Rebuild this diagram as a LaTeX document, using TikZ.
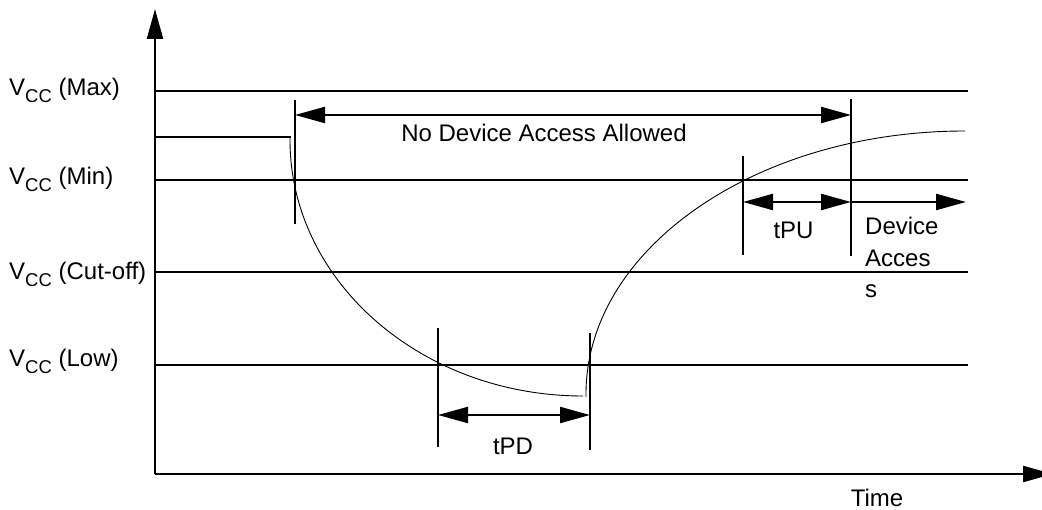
\documentclass[tikz,border=0pt]{standalone}
\usepackage{fontspec}
\setmainfont{Liberation Sans}
\usepackage{tikz}
\usetikzlibrary{arrows.meta}
\tikzset{
    rail/.style={line width=2.2pt},
    gate/.style={line width=2.2pt},
    trace/.style={line width=0.9pt},
    oneway/.style={line width=2.2pt, -{Triangle[length=30pt,width=16pt]}},
    twoway/.style={line width=2.2pt, {Triangle[length=30pt,width=16pt]}-{Triangle[length=30pt,width=16pt]}},
    lbl/.style={inner sep=0pt, font=\fontsize{24}{31.5}\selectfont}
}
\newcommand{\vcc}[1]{V\raisebox{-7pt}{\fontsize{18.5}{18.5}\selectfont CC} (#1)}
\newcommand{\vlevel}[4] {
	\coordinate (#1-l) at (155,#3);
	\coordinate (#1-r) at (968,#3);
	\draw[rail] (#1-l) -- (#1-r);
	\node[lbl, anchor=base west] (#1-txt) at (9,#4) {\vcc{#2}};
}
\newcommand{\gateline}[4] {
	\coordinate (#1-t) at (#2,#3);
	\coordinate (#1-b) at (#2,#4);
	\draw[gate] (#1-t) -- (#1-b);
}

\begin{document}
\begin{tikzpicture}[x=1pt,y=-1pt]
		\useasboundingbox (0,0) rectangle (1042,510);

		% axes
		\coordinate (o) at (155,474);
		\coordinate (ytop) at (155,9);
		\coordinate (xend) at (1053,474);
		\draw[oneway] (o) -- (ytop);
		\draw[oneway] (o) -- (xend);
		\node[lbl, anchor=base] (time) at (877,506) {Time};

		% V_CC levels
		\vlevel{max}{Max}{91}{96}
		\vlevel{min}{Min}{180}{185}
		\vlevel{cut}{Cut-off}{272}{280}
		\vlevel{low}{Low}{365}{367}

		% supply voltage
		\coordinate (v0) at (155,137);
		\coordinate (v1) at (291,137);
		\draw[rail] (v0) -- (v1);
		\draw[trace] (290,137) -- (290,140) .. controls (290,281) and (421,396) .. (583,396);
		\draw[trace] (586,397) -- (586,394) .. controls (586,249) and (756,131) .. (965,131);

		% time markers
		\gateline{m1}{295}{100}{224}
		\gateline{m2}{851}{99}{256}
		\gateline{m3}{743}{156}{255}
		\gateline{m4}{438}{328}{447}
		\gateline{m5}{590}{333}{450}

		% intervals
		\draw[twoway] (m1-t |- 0,115) -- (m2-t |- 0,115);
		\node[lbl, anchor=base] (nda) at (544,141.7) {No Device Access Allowed};

		\draw[twoway] (m4-t |- 0,415) -- (m5-t |- 0,415);
		\node[lbl, anchor=base] (tpd) at (513,455) {tPD};

		\draw[twoway] (m3-t |- 0,202) -- (m2-t |- 0,202);
		\node[lbl, anchor=base] (tpu) at (793.5,239) {tPU};

		\coordinate (acc-end) at (966,202);
		\draw[oneway] (m2-t |- 0,202) -- (acc-end);
		\node[lbl, anchor=base west, align=left] (acc) at (865,298) {Device\\Acces\\s};

	\end{tikzpicture}
\end{document}
